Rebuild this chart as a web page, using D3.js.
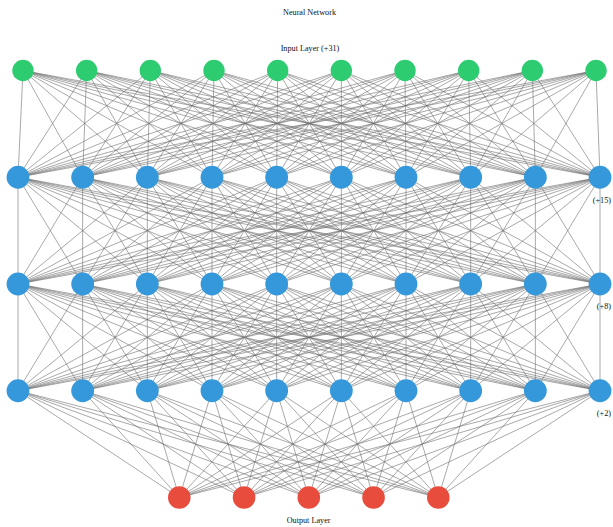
<!DOCTYPE html>
<html>
<head>
<meta charset="utf-8">
<script src="https://cdn.jsdelivr.net/npm/d3@7"></script>
<style>
  html, body { margin: 0; padding: 0; background: #fff; }
  svg { display: block; }
  text { font-family: "Liberation Serif", "Times New Roman", serif; font-size: 8.2px; fill: #111; }
</style>
</head>
<body>
<div id="chart"></div>
<script>
// ---- data ----
const title = "Neural Network";
const layerNames = ["Input", "Hidden 1", "Hidden 2", "Hidden 3", "Output"];
const layerShown = [10, 10, 10, 10, 5];          // nodes drawn per layer
const layerHidden = [31, 15, 8, 2, 0];           // extra nodes not drawn ("+N")
const layerKinds = ["input", "hidden", "hidden", "hidden", "output"];
const topLabel = "Input Layer";
const bottomLabel = "Output Layer";

// ---- layout ----
const W = 613, H = 527;
const colors = { input: "#2ecc71", hidden: "#3498db", output: "#e74c3c" };
const radius = { input: 10.7, hidden: 11.4, output: 11.3 };

const svg = d3.select("#chart").append("svg").attr("width", W).attr("height", H);

const y = d3.scalePoint().domain(layerNames).range([70.5, 497.5]);
const spacing = { input: 63.67, hidden: 64.67, output: 64.75 };
const centerX = { input: 309.5, hidden: 309, output: 308.8 };

function xScale(li) {
  const n = layerShown[li], k = layerKinds[li];
  const half = spacing[k] * (n - 1) / 2;
  return d3.scalePoint().domain(d3.range(n)).range([centerX[k] - half, centerX[k] + half]);
}

const nodes = layerNames.map((name, li) => {
  const xs = xScale(li);
  return d3.range(layerShown[li]).map(i => ({ layer: li, kind: layerKinds[li], x: xs(i), y: y(name) }));
});

const links = [];
for (let li = 0; li < nodes.length - 1; li++) {
  nodes[li].forEach(a => nodes[li + 1].forEach(b => links.push({ a, b })));
}

svg.append("g")
  .selectAll("line").data(links).join("line")
  .attr("x1", d => d.a.x).attr("y1", d => d.a.y)
  .attr("x2", d => d.b.x).attr("y2", d => d.b.y)
  .attr("stroke", "#6e6e6e").attr("stroke-width", 0.7).attr("stroke-opacity", 0.85);

svg.append("g")
  .selectAll("circle").data(nodes.flat()).join("circle")
  .attr("cx", d => d.x).attr("cy", d => d.y)
  .attr("r", d => radius[d.kind])
  .attr("fill", d => colors[d.kind]);

// titles
svg.append("text").attr("x", 309.5).attr("y", 14.5).attr("text-anchor", "middle").text(title);
svg.append("text").attr("x", 310).attr("y", 51).attr("text-anchor", "middle")
  .text(`${topLabel} (+${layerHidden[0]})`);
svg.append("text").attr("x", 308.6).attr("y", 523).attr("text-anchor", "middle").text(bottomLabel);

// hidden-layer overflow labels
layerNames.forEach((name, li) => {
  if (layerKinds[li] !== "hidden" || !layerHidden[li]) return;
  svg.append("text").attr("x", 611).attr("y", y(name) + 25.3).attr("text-anchor", "end")
    .text(`(+${layerHidden[li]})`);
});
</script>
</body>
</html>
